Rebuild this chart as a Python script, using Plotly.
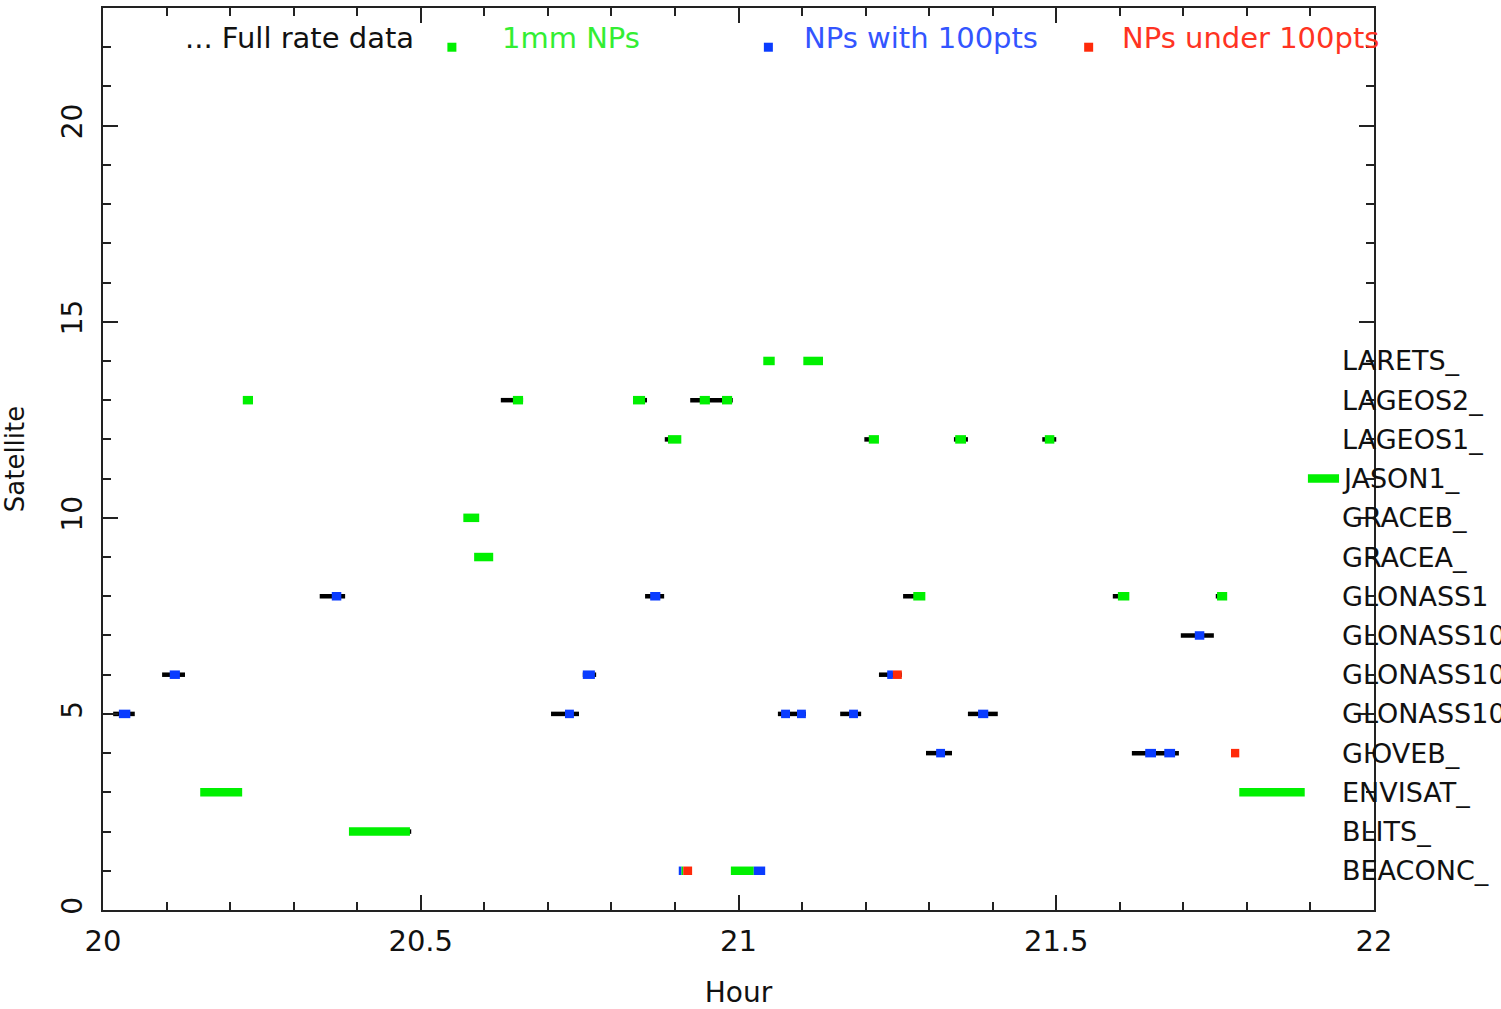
import plotly.graph_objects as go

# ---------------- data ----------------
SAT_NAMES = ["BEACONC_", "BLITS_", "ENVISAT_", "GIOVEB_", "GLONASS10", "GLONASS10",
             "GLONASS10", "GLONASS1", "GRACEA_", "GRACEB_", "JASON1_", "LAGEOS1_",
             "LAGEOS2_", "LARETS_"]
SAT_IDX = list(range(1, 15))

# Full rate data passes (black)
FULL_SAT = [8, 8, 8, 8, 8, 7, 6, 6, 6, 5, 5, 5, 5, 5, 4, 4, 13, 13, 13, 12, 12, 12, 12, 2]
FULL_START = [20.341, 20.853, 21.259, 21.589, 21.751, 21.696, 20.093, 20.755, 21.221,
              20.016, 20.705, 21.062, 21.160, 21.361, 21.295, 21.619, 20.626, 20.845,
              20.924, 20.884, 21.198, 21.339, 21.478, 20.478]
FULL_END = [20.381, 20.883, 21.293, 21.614, 21.760, 21.748, 20.129, 20.776, 21.257,
            20.050, 20.749, 21.106, 21.193, 21.408, 21.336, 21.693, 20.661, 20.856,
            20.991, 20.896, 21.207, 21.361, 21.500, 20.485]

# 1mm normal points (green)
GREEN_SAT = [14, 14, 13, 13, 13, 13, 13, 12, 12, 12, 12, 11, 10, 9, 8, 8, 8, 3, 3, 2, 1, 1]
GREEN_START = [21.039, 21.102, 20.220, 20.645, 20.834, 20.939, 20.974, 20.889, 21.205,
               21.341, 21.482, 21.896, 20.567, 20.584, 21.275, 21.597, 21.753, 20.153,
               21.788, 20.387, 20.988, 20.910]
GREEN_END = [21.057, 21.133, 20.236, 20.661, 20.853, 20.955, 20.990, 20.910, 21.221,
             21.358, 21.497, 21.945, 20.592, 20.614, 21.294, 21.615, 21.769, 20.219,
             21.891, 20.483, 21.024, 20.913]

# Normal points with 100 pts (blue)
BLUE_SAT = [8, 8, 7, 6, 6, 6, 5, 5, 5, 5, 5, 5, 4, 4, 4, 1, 1]
BLUE_START = [20.360, 20.861, 21.718, 20.105, 20.755, 21.234, 20.025, 20.727, 21.067,
              21.092, 21.174, 21.377, 21.311, 21.640, 21.670, 20.906, 21.024]
BLUE_END = [20.375, 20.877, 21.733, 20.121, 20.774, 21.243, 20.043, 20.741, 21.081,
            21.106, 21.188, 21.393, 21.325, 21.657, 21.687, 20.910, 21.042]

# Normal points under 100 pts (red)
RED_SAT = [6, 4, 1]
RED_START = [21.243, 21.775, 20.913]
RED_END = [21.257, 21.788, 20.927]

# legend texts
LEG_TEXT = ["... Full rate data", "1mm NPs", "NPs with 100pts", "NPs under 100pts"]
LEG_TEXT_X = [20.126, 20.625, 21.100, 21.600]
LEG_SWATCH_X = [20.549, 21.047, 21.551]

GREEN = "#00f000"
BLUE = "#0a3cff"
RED = "#ff2a0a"
FONT = "DejaVu Sans"


def seg_xy(sats, starts, ends):
    xs, ys = [], []
    for s, a, b in zip(sats, starts, ends):
        xs += [a, b, None]
        ys += [s, s, None]
    return xs, ys


fig = go.Figure()

for sats, starts, ends, color, width in [
    (FULL_SAT, FULL_START, FULL_END, "#000000", 4.5),
    (GREEN_SAT, GREEN_START, GREEN_END, GREEN, 8.5),
    (BLUE_SAT, BLUE_START, BLUE_END, BLUE, 8.5),
    (RED_SAT, RED_START, RED_END, RED, 8.5),
]:
    xs, ys = seg_xy(sats, starts, ends)
    fig.add_trace(go.Scatter(x=xs, y=ys, mode="lines",
                             line=dict(color=color, width=width),
                             showlegend=False, hoverinfo="skip"))

# legend swatches
fig.add_trace(go.Scatter(x=LEG_SWATCH_X, y=[22.0] * 3, mode="markers",
                         marker=dict(symbol="square", size=9,
                                     color=[GREEN, BLUE, RED], line=dict(width=0)),
                         showlegend=False, hoverinfo="skip"))

annotations = []
for txt, x, col in zip(LEG_TEXT, LEG_TEXT_X, ["#111111", "#33ee33", "#3355ff", "#ff3322"]):
    annotations.append(dict(x=x, y=22.24, xref="x", yref="y", text=txt, showarrow=False,
                            xanchor="left", yanchor="middle",
                            font=dict(family=FONT, size=29, color=col)))

for name, k in zip(SAT_NAMES, SAT_IDX):
    annotations.append(dict(x=21.947, y=k, xref="x", yref="y", text=name, showarrow=False,
                            xanchor="left", yanchor="middle",
                            font=dict(family=FONT, size=27, color="#111111")))

axis_common = dict(showline=True, linecolor="#222222", linewidth=2, mirror="ticks",
                   ticks="inside", tickcolor="#222222", tickwidth=1.5, ticklen=15,
                   showgrid=False, zeroline=False)

fig.update_layout(
    width=1501, height=1009,
    margin=dict(l=103, r=127, t=6, b=97),
    paper_bgcolor="white", plot_bgcolor="white",
    showlegend=False,
    annotations=annotations,
    xaxis=dict(range=[20, 22], tickmode="array", tickvals=[20, 20.5, 21, 21.5, 22],
               ticktext=["20", "20.5", "21", "21.5", "22"],
               minor=dict(dtick=0.1, ticks="inside", ticklen=8, tickcolor="#222222", tickwidth=1.5),
               title=dict(text="Hour", font=dict(family=FONT, size=28, color="#111111"), standoff=26),
               ticklabelstandoff=4,
               tickfont=dict(family=FONT, size=29, color="#111111"),
               **axis_common),
    yaxis=dict(range=[0, 23], tickmode="array", tickvals=[0, 5, 10, 15, 20],
               tickangle=-90,
               minor=dict(dtick=1, ticks="inside", ticklen=8, tickcolor="#222222", tickwidth=1.5),
               title=dict(text="Satellite", font=dict(family=FONT, size=26, color="#111111"), standoff=28),
               ticklabelstandoff=8,
               tickfont=dict(family=FONT, size=28, color="#111111"),
               **axis_common),
)

fig.write_html("out.html", config={"displayModeBar": False},
               post_script="document.body.style.margin='0';")
